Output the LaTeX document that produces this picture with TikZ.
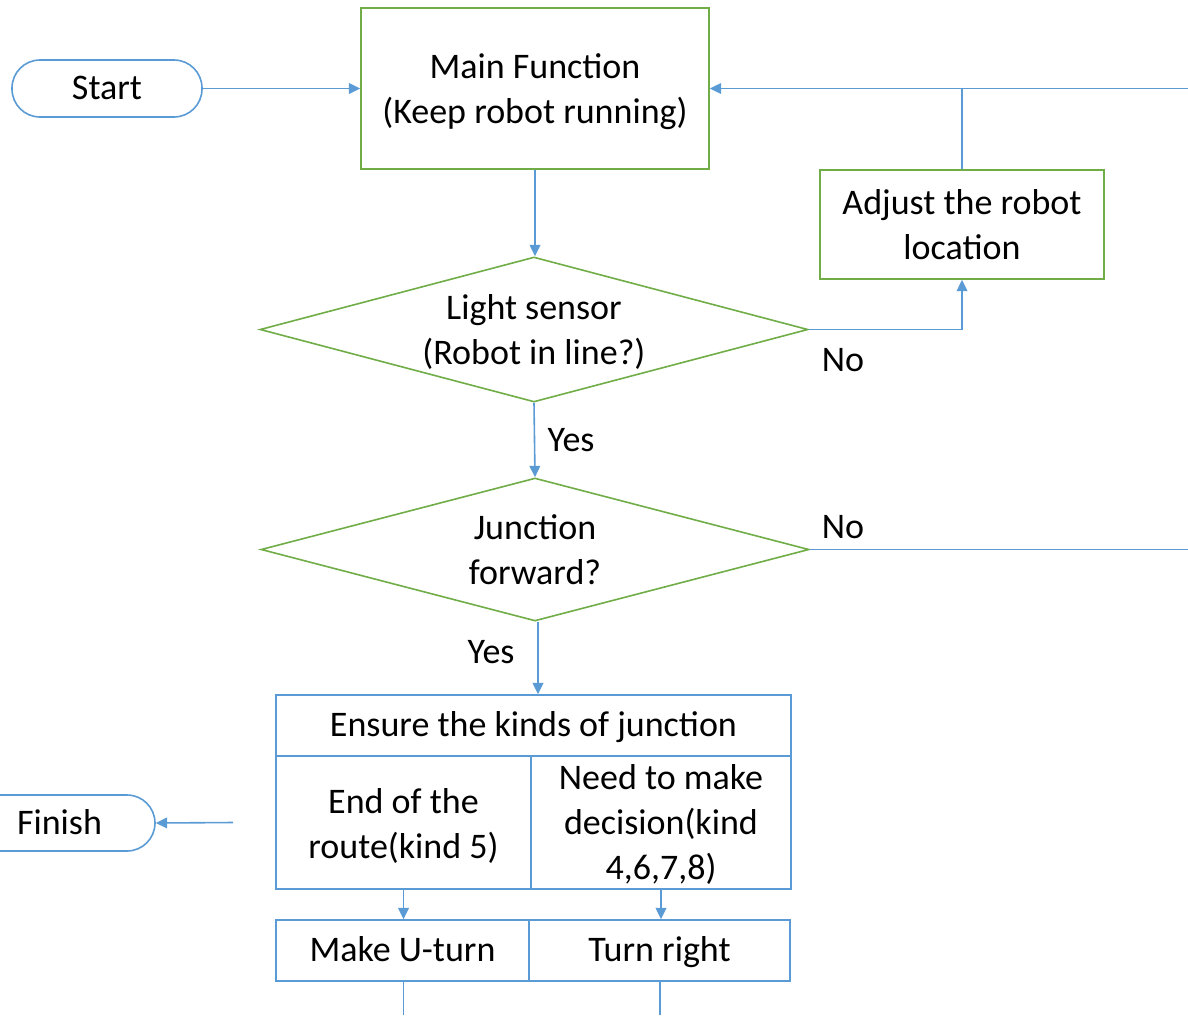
\documentclass[tikz,border=0pt]{standalone}
\usepackage{fontspec}
\setmainfont{Carlito}
\usetikzlibrary{arrows.meta,shapes.geometric}
\definecolor{lgreen}{HTML}{70AD47}
\definecolor{lblue}{HTML}{5B9BD5}
\begin{document}
\begin{tikzpicture}[x=0.75pt,y=-0.75pt,
  every node/.style={font=\fontsize{27}{33.75}\selectfont, align=center, inner sep=0pt},
  gbox/.style={draw=lgreen, line width=1.2pt, rectangle},
  bbox/.style={draw=lblue, line width=1.2pt, rectangle},
  pill/.style={draw=lblue, line width=1.2pt, rectangle, rounded corners=21pt},
  dia/.style={draw=lgreen, line width=1.2pt, diamond, inner sep=0pt},
  conn/.style={draw=lblue, line width=1.2pt},
  arr/.style={conn, -{Triangle[length=8.5pt,width=8pt]}},
  one/.style={text height=20pt, text depth=3pt},
  lbl/.style={}
]
\useasboundingbox (0,0) rectangle (1188,1015);
\clip (0,0) rectangle (1188,1015);

% nodes
\node[pill, one, minimum width=142.5pt, minimum height=42.75pt] (start) at (107,88.5) {Start};
\node[gbox, minimum width=261pt, minimum height=120.75pt] (main) at (535,88.5) {};
\node (maint) at (535,91.5) {Main Function\\(Keep robot running)};
\node[gbox, minimum width=213pt, minimum height=81.75pt] (adj) at (962,224.5) {Adjust the robot\\location};

\node[dia, minimum width=411pt, minimum height=108.75pt] (d1) at (534,329.5) {};
\node (d1t) at (534,332) {Light sensor\\(Robot in line?)};

\node[dia, minimum width=411pt, minimum height=107.25pt] (d2) at (535,549.5) {};
\node (d2t) at (535,550) {Junction\\forward?};

\node[bbox, one, minimum width=386.25pt, minimum height=45.75pt] (head) at (533.5,725.5) {Ensure the kinds of junction};
\node[bbox, minimum width=191.25pt, minimum height=99.75pt] (lc) at (403.5,822.5) {};
\node (lct) at (403.5,825.5) {End of the\\route(kind 5)};
\node[bbox, minimum width=195pt, minimum height=99.75pt] (rc) at (661,822.5) {};
\node (rct) at (661,824.5) {Need to make\\decision(kind\\4,6,7,8)};

\node[bbox, one, minimum width=189.75pt, minimum height=45.75pt] (bl) at (402.5,950.5) {Make U-turn};
\node[bbox, one, minimum width=195.75pt, minimum height=45.75pt] (br) at (659.5,950.5) {Turn right};

\node[pill, one, minimum width=146.25pt, minimum height=42pt] (fin) at (57.5,823) {\hspace*{3pt}Finish};

% labels
\node[lbl] (no1) at (843,360) {No};
\node[lbl] (yes1) at (571,440) {Yes};
\node[lbl] (no2) at (843,527) {No};
\node[lbl] (yes2) at (491,652) {Yes};

% free-end coordinates
\coordinate (re1) at (1188,88.5);
\coordinate (re2) at (1188,549.5);
\coordinate (fa) at (233,822.5);
\coordinate (be1) at (403.5,1015);
\coordinate (be2) at (660,1015);

% connectors
\draw[arr] (start.east) -- (main.west);
\draw[arr] (main.south) -- (main.south |- d1.north);
\draw[arr] (d1.east) -| (adj.south);
\draw[conn] (adj.north) -- (adj.north |- re1);
\draw[arr] (re1) -- (main.east);
\draw[arr] (d1.south) -- (d2.north);
\draw[conn] (d2.east) -- (re2);
\draw[arr] ([xshift=2.25pt]d2.south) -- ([xshift=2.25pt]d2.south |- head.north);
\draw[arr] (lc.south) -- (lc.south |- bl.north);
\draw[arr] (rc.south) -- (rc.south |- br.north);
\draw[conn] (bl.south -| be1) -- (be1);
\draw[conn] (br.south -| be2) -- (be2);
\draw[arr] (fa) -- (fin.east);
\end{tikzpicture}
\end{document}
